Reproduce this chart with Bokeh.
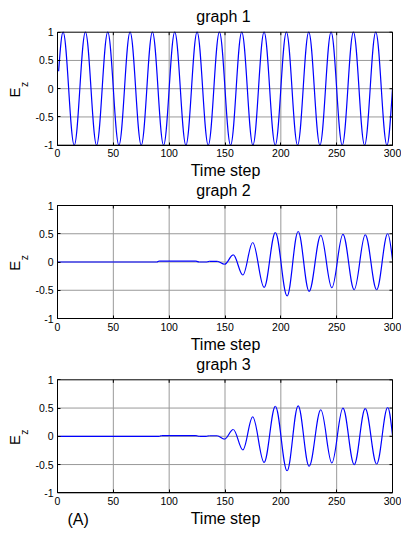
import math
import numpy as np
from bokeh.plotting import figure
from bokeh.layouts import column
from bokeh.models import (Range1d, LinearAxis, FixedTicker, Label,
                          ColumnDataSource, CustomJSTickFormatter)
from bokeh.embed import file_html
from bokeh.resources import INLINE

# ---------------- data ----------------
titles = ["graph 1", "graph 2", "graph 3"]
x_label = "Time step"
y_label_main = "E"
y_label_sub = "z"
panel_tag = "(A)"
x_lim = (0, 300)
y_lim = (-1, 1)
x_ticks = [0, 50, 100, 150, 200, 250, 300]
y_ticks = [-1, -0.5, 0, 0.5, 1]
y_tick_labels = ["-1", "-0.5", "0", "0.5", "1"]

# key points (time step, Ez): start, extrema, end
g1_t = [1, 5, 15, 25, 35, 45, 55, 65, 75, 85, 95, 105, 115, 125, 135, 145,
        155, 165, 175, 185, 195, 205, 215, 225, 235, 245, 255, 265, 275, 285,
        295, 300]
g1_v = [0.31, 1, -1, 1, -1, 1, -1, 1, -1, 1, -1, 1, -1, 1, -1, 1,
        -1, 1, -1, 1, -1, 1, -1, 1, -1, 1, -1, 1, -1, 1,
        -1, 0]

g2_t = [0, 89, 91, 124, 127, 133, 136, 143, 149.6, 157.4, 166, 174.8, 185,
        195.1, 205.6, 215.5, 225.3, 235.8, 245.7, 255.6, 265.7, 275.6, 285.8,
        295.7, 300]
g2_v = [0, 0, 0.015, 0.015, 0, 0, 0.01, 0.01, -0.04, 0.125, -0.23, 0.345, -0.45,
        0.52, -0.60, 0.54, -0.52, 0.47, -0.455, 0.49, -0.49, 0.48, -0.49,
        0.50, 0.04]

g3_t = [0, 91, 93, 124, 127, 133, 136, 143, 149.6, 157.4, 166, 174.8, 185,
        195.1, 205.6, 215.5, 225.3, 235.8, 245.7, 255.6, 265.7, 275.6, 285.8,
        295.7, 300]
g3_v = [0, 0, 0.012, 0.012, 0, 0, 0.01, 0.01, -0.05, 0.12, -0.24, 0.345, -0.46,
        0.53, -0.61, 0.54, -0.53, 0.47, -0.47, 0.50, -0.50, 0.49, -0.49,
        0.51, 0.02]

series = [(g1_t, g1_v), (g2_t, g2_v), (g3_t, g3_v)]

# ---------------- layout (pixels) ----------------
W = 401
FIG_H = [180, 173, 181]
BOX_TOP = [31.7, 25.0, 26.3]
BOX_L, BOX_W, BOX_H = 57.0, 335.0, 113.0
FONT = "Liberation Sans"
K = 0.3634
TICK = 3.0
MID16 = 5.5   # baseline -> middle of a 16px text box


def bezier_source(t, v):
    t = np.asarray(t, float)
    v = np.asarray(v, float)
    n = len(t)
    m = np.zeros(n)
    for i in range(n):
        if 0 < i < n - 1:
            if (v[i] - v[i - 1]) * (v[i + 1] - v[i]) > 0:
                m[i] = (v[i + 1] - v[i - 1]) / (t[i + 1] - t[i - 1])
        elif i == 0:
            m[i] = 1.5 * (v[1] - v[0]) / (t[1] - t[0])
        else:
            m[i] = 1.5 * (v[i] - v[i - 1]) / (t[i] - t[i - 1])
    s = t[1:] - t[:-1]
    return ColumnDataSource(dict(
        x0=t[:-1], y0=v[:-1], x1=t[1:], y1=v[1:],
        cx0=t[:-1] + K * s, cy0=v[:-1] + m[:-1] * K * s,
        cx1=t[1:] - K * s, cy1=v[1:] - m[1:] * K * s))


figs = []
for i, (t, v) in enumerate(series):
    H = FIG_H[i]
    T = BOX_TOP[i]
    B = T + BOX_H
    xspan = x_lim[1] - x_lim[0]
    yspan = y_lim[1] - y_lim[0]

    def xd(px):
        return x_lim[0] + (px - BOX_L) / BOX_W * xspan

    def yd(py):
        return y_lim[1] - (py - T) / BOX_H * yspan

    p = figure(width=W, height=H, x_range=Range1d(xd(0), xd(W)),
               y_range=Range1d(yd(H), yd(0)),
               output_backend="svg", toolbar_location=None,
               x_axis_location=None, y_axis_location=None,
               min_border=0, min_border_left=0, min_border_right=0,
               min_border_top=0, min_border_bottom=0)
    p.title.visible = False
    p.outline_line_color = None
    p.background_fill_color = "white"
    p.border_fill_color = "white"
    p.xgrid.visible = False
    p.ygrid.visible = False

    # grid
    gx = x_ticks[1:-1]
    gy = y_ticks[1:-1]
    p.segment(x0=gx, y0=[y_lim[0]] * len(gx), x1=gx, y1=[y_lim[1]] * len(gx),
              line_color="#999999", line_width=1)
    p.segment(x0=[x_lim[0]] * len(gy), y0=gy, x1=[x_lim[1]] * len(gy), y1=gy,
              line_color="#999999", line_width=1)

    # curve
    src = bezier_source(t, v)
    p.bezier(x0="x0", y0="y0", x1="x1", y1="y1", cx0="cx0", cy0="cy0",
             cx1="cx1", cy1="cy1", source=src, line_color="#0000ff",
             line_width=1.2)

    # box and inner ticks on top / right
    p.quad(left=[x_lim[0]], right=[x_lim[1]], bottom=[y_lim[0]], top=[y_lim[1]],
           fill_color=None, line_color="black", line_width=1)
    tyd = TICK / BOX_H * yspan
    txd = TICK / BOX_W * xspan
    p.segment(x0=x_ticks, y0=[y_lim[1]] * len(x_ticks), x1=x_ticks,
              y1=[y_lim[1] - tyd] * len(x_ticks), line_color="black", line_width=1)
    p.segment(x0=[x_lim[1]] * len(y_ticks), y0=y_ticks,
              x1=[x_lim[1] - txd] * len(y_ticks), y1=y_ticks,
              line_color="black", line_width=1)

    # axes at the box edges
    xa = LinearAxis(fixed_location=y_lim[0], bounds=x_lim,
                    ticker=FixedTicker(ticks=x_ticks),
                    major_tick_in=int(TICK), major_tick_out=0,
                    minor_tick_line_color=None, major_label_standoff=4,
                    axis_line_color="black", major_tick_line_color="black",
                    major_label_text_font=FONT, major_label_text_font_size="10.5px",
                    major_label_text_color="black")
    p.add_layout(xa, "below")
    ya = LinearAxis(fixed_location=x_lim[0], bounds=y_lim,
                    ticker=FixedTicker(ticks=y_ticks),
                    major_tick_in=int(TICK), major_tick_out=0,
                    minor_tick_line_color=None, major_label_standoff=4,
                    axis_line_color="black", major_tick_line_color="black",
                    major_label_text_font=FONT, major_label_text_font_size="10.5px",
                    major_label_text_color="black",
                    formatter=CustomJSTickFormatter(code="return tick.toString();"))
    ya.major_label_overrides = dict(zip(y_ticks, y_tick_labels))
    p.add_layout(ya, "left")

    # texts
    p.add_layout(Label(x=xd(223), y=yd(T - 10 - MID16), text=titles[i],
                       text_align="center", text_baseline="middle",
                       text_font=FONT, text_font_size="16px", text_color="black"))
    p.add_layout(Label(x=xd(225), y=yd(B + 31 - MID16), text=x_label,
                       text_align="center", text_baseline="middle",
                       text_font=FONT, text_font_size="16px", text_color="black"))
    p.add_layout(Label(x=xd(13.7), y=yd(T + BOX_H / 2 + 3.7), text=y_label_main,
                       angle=math.pi / 2, text_align="center",
                       text_baseline="middle", text_font=FONT,
                       text_font_size="15px", text_color="black"))
    p.add_layout(Label(x=xd(23.3), y=yd(T + BOX_H / 2 - 4.3), text=y_label_sub,
                       angle=math.pi / 2, text_align="center",
                       text_baseline="middle", text_font=FONT,
                       text_font_size="10.5px", text_color="black"))
    if i == 2:
        p.add_layout(Label(x=xd(67), y=yd(B + 32.3 - MID16), text=panel_tag,
                           text_align="left", text_baseline="middle",
                           text_font=FONT, text_font_size="16px",
                           text_color="black"))
    figs.append(p)

layout = column(*figs, spacing=0)
open("out.html", "w").write(file_html(layout, INLINE))
